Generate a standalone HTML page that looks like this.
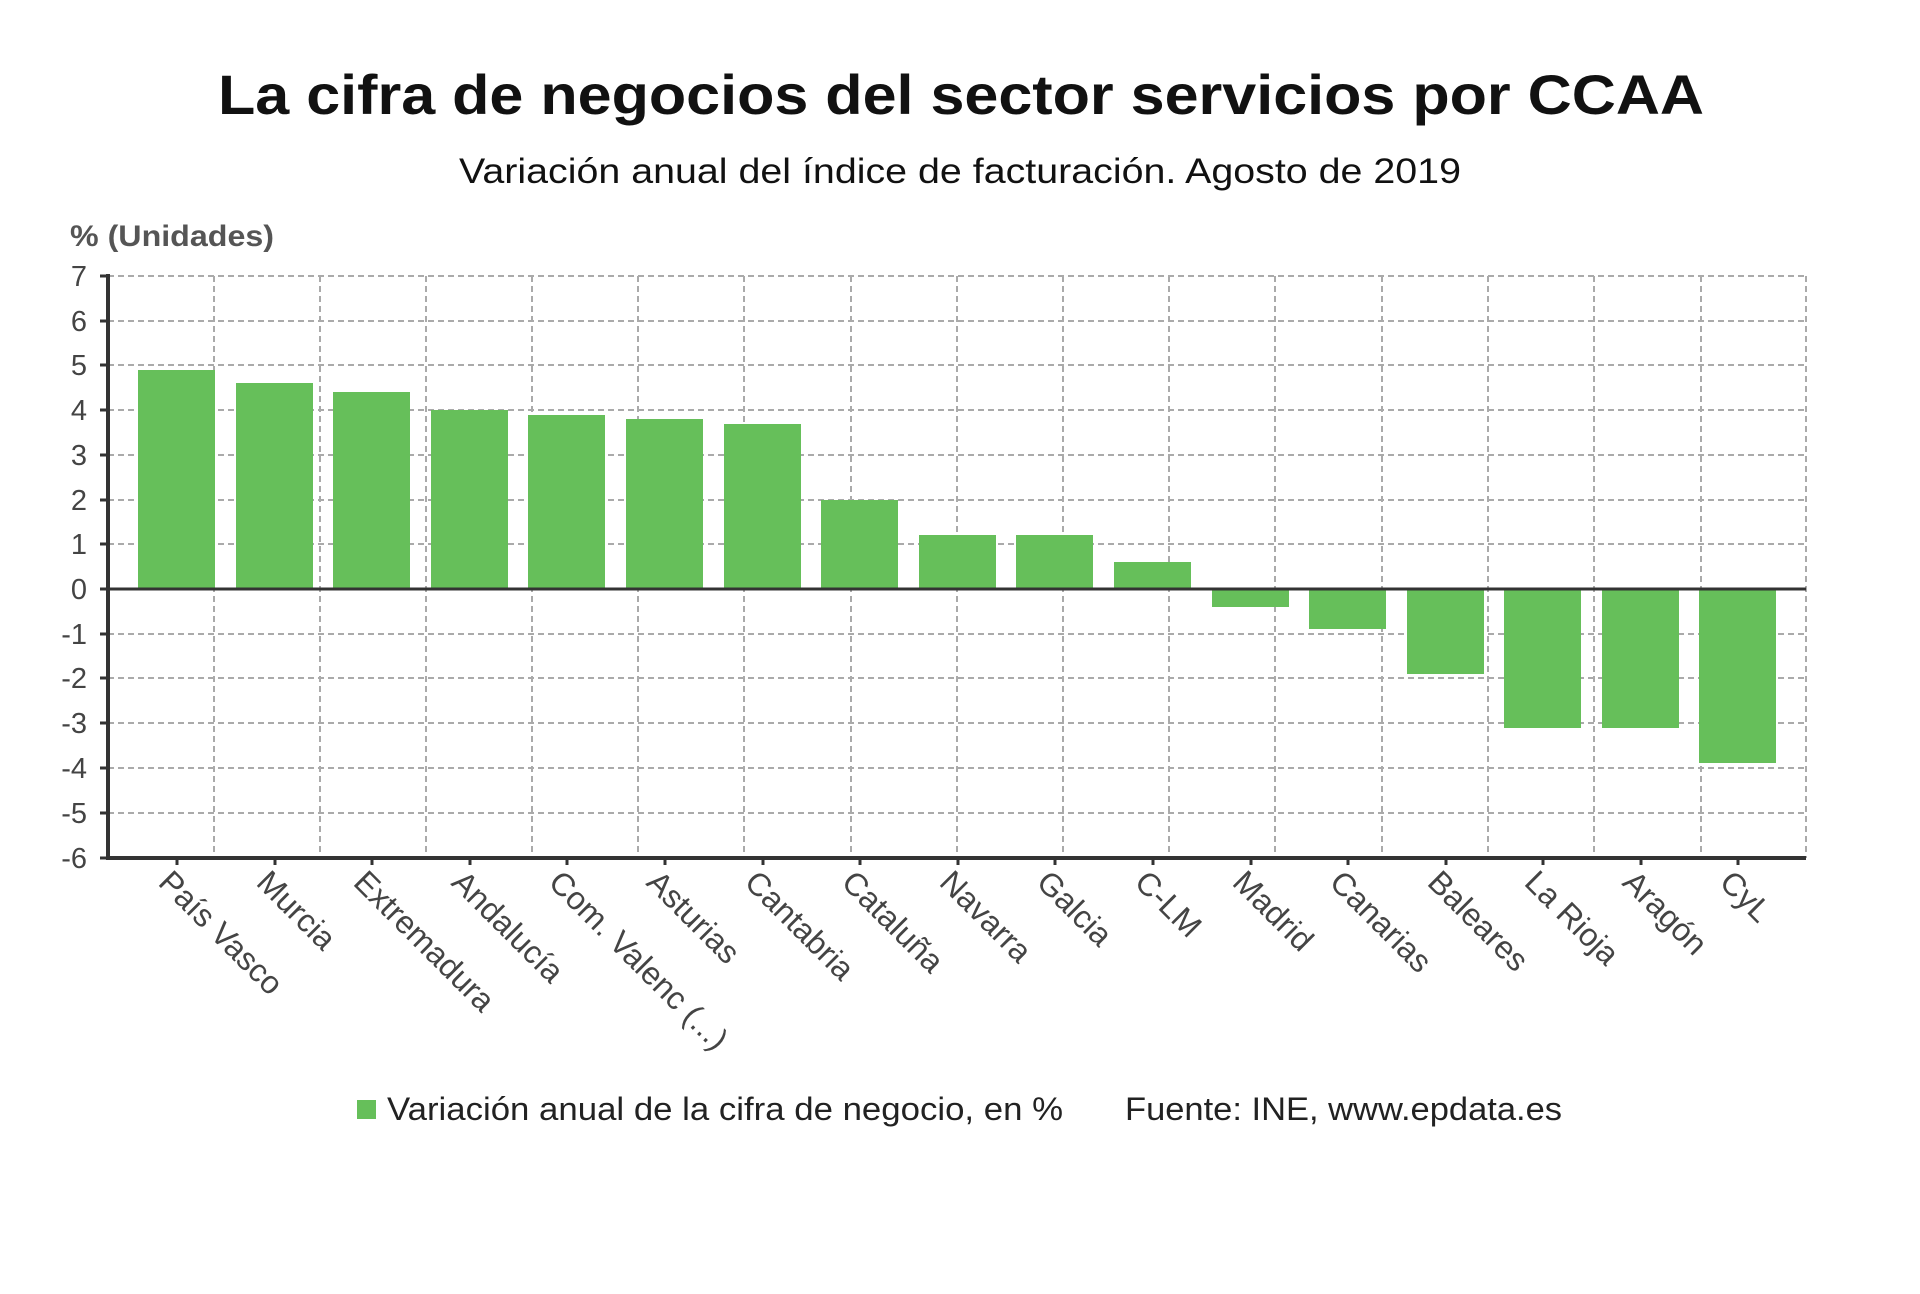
<!DOCTYPE html>
<html><head><meta charset="utf-8"><style>
html,body{margin:0;padding:0;background:#fff;}
svg{display:block;}
text{font-family:"Liberation Sans",sans-serif;}
</style></head><body>
<svg width="1920" height="1294" viewBox="0 0 1920 1294" xmlns="http://www.w3.org/2000/svg">
<rect width="1920" height="1294" fill="#fff"/>
<text x="961" y="114" text-anchor="middle" font-size="56" font-weight="bold" fill="#111" textLength="1486" lengthAdjust="spacingAndGlyphs">La cifra de negocios del sector servicios por CCAA</text>
<text x="960" y="183" text-anchor="middle" font-size="35" fill="#111" textLength="1002" lengthAdjust="spacingAndGlyphs">Variación anual del índice de facturación. Agosto de 2019</text>
<text x="70" y="246" font-size="30" font-weight="bold" fill="#555" textLength="204" lengthAdjust="spacingAndGlyphs">% (Unidades)</text>
<g stroke="#aaa" stroke-width="2" stroke-dasharray="6,4" fill="none">
<line x1="108" x2="1806" y1="276" y2="276"/><line x1="108" x2="1806" y1="321" y2="321"/><line x1="108" x2="1806" y1="365" y2="365"/><line x1="108" x2="1806" y1="410" y2="410"/><line x1="108" x2="1806" y1="455" y2="455"/><line x1="108" x2="1806" y1="500" y2="500"/><line x1="108" x2="1806" y1="544" y2="544"/><line x1="108" x2="1806" y1="634" y2="634"/><line x1="108" x2="1806" y1="678" y2="678"/><line x1="108" x2="1806" y1="723" y2="723"/><line x1="108" x2="1806" y1="768" y2="768"/><line x1="108" x2="1806" y1="813" y2="813"/>
<line x1="214" x2="214" y1="276" y2="858"/><line x1="320" x2="320" y1="276" y2="858"/><line x1="426" x2="426" y1="276" y2="858"/><line x1="532" x2="532" y1="276" y2="858"/><line x1="638" x2="638" y1="276" y2="858"/><line x1="744" x2="744" y1="276" y2="858"/><line x1="851" x2="851" y1="276" y2="858"/><line x1="957" x2="957" y1="276" y2="858"/><line x1="1063" x2="1063" y1="276" y2="858"/><line x1="1169" x2="1169" y1="276" y2="858"/><line x1="1275" x2="1275" y1="276" y2="858"/><line x1="1382" x2="1382" y1="276" y2="858"/><line x1="1488" x2="1488" y1="276" y2="858"/><line x1="1594" x2="1594" y1="276" y2="858"/><line x1="1701" x2="1701" y1="276" y2="858"/><line x1="1806" x2="1806" y1="276" y2="858"/>
</g>
<g fill="#66bf5a">
<rect x="138" y="370" width="77" height="219"/>
<rect x="236" y="383" width="77" height="206"/>
<rect x="333" y="392" width="77" height="197"/>
<rect x="431" y="410" width="77" height="179"/>
<rect x="528" y="415" width="77" height="174"/>
<rect x="626" y="419" width="77" height="170"/>
<rect x="724" y="424" width="77" height="165"/>
<rect x="821" y="500" width="77" height="89"/>
<rect x="919" y="535" width="77" height="54"/>
<rect x="1016" y="535" width="77" height="54"/>
<rect x="1114" y="562" width="77" height="27"/>
<rect x="1212" y="589" width="77" height="18"/>
<rect x="1309" y="589" width="77" height="40"/>
<rect x="1407" y="589" width="77" height="85"/>
<rect x="1504" y="589" width="77" height="139"/>
<rect x="1602" y="589" width="77" height="139"/>
<rect x="1699" y="589" width="77" height="174"/>
</g>
<line x1="108" x2="1806" y1="589" y2="589" stroke="#333" stroke-width="3"/>
<line x1="108" x2="108" y1="274" y2="860" stroke="#333" stroke-width="4"/>
<line x1="106" x2="1806" y1="858" y2="858" stroke="#333" stroke-width="4"/>
<g stroke="#333" stroke-width="3">
<line x1="100" x2="108" y1="276" y2="276"/><line x1="100" x2="108" y1="321" y2="321"/><line x1="100" x2="108" y1="365" y2="365"/><line x1="100" x2="108" y1="410" y2="410"/><line x1="100" x2="108" y1="455" y2="455"/><line x1="100" x2="108" y1="500" y2="500"/><line x1="100" x2="108" y1="544" y2="544"/><line x1="100" x2="108" y1="589" y2="589"/><line x1="100" x2="108" y1="634" y2="634"/><line x1="100" x2="108" y1="678" y2="678"/><line x1="100" x2="108" y1="723" y2="723"/><line x1="100" x2="108" y1="768" y2="768"/><line x1="100" x2="108" y1="813" y2="813"/><line x1="100" x2="108" y1="858" y2="858"/>
<line x1="177" x2="177" y1="858" y2="865"/><line x1="275" x2="275" y1="858" y2="865"/><line x1="372" x2="372" y1="858" y2="865"/><line x1="470" x2="470" y1="858" y2="865"/><line x1="567" x2="567" y1="858" y2="865"/><line x1="665" x2="665" y1="858" y2="865"/><line x1="763" x2="763" y1="858" y2="865"/><line x1="860" x2="860" y1="858" y2="865"/><line x1="958" x2="958" y1="858" y2="865"/><line x1="1055" x2="1055" y1="858" y2="865"/><line x1="1153" x2="1153" y1="858" y2="865"/><line x1="1251" x2="1251" y1="858" y2="865"/><line x1="1348" x2="1348" y1="858" y2="865"/><line x1="1446" x2="1446" y1="858" y2="865"/><line x1="1543" x2="1543" y1="858" y2="865"/><line x1="1641" x2="1641" y1="858" y2="865"/><line x1="1738" x2="1738" y1="858" y2="865"/>
</g>
<g font-size="29" fill="#444" text-anchor="end">
<text x="87" y="286">7</text><text x="87" y="331">6</text><text x="87" y="375">5</text><text x="87" y="420">4</text><text x="87" y="465">3</text><text x="87" y="510">2</text><text x="87" y="554">1</text><text x="87" y="599">0</text><text x="87" y="644">-1</text><text x="87" y="688">-2</text><text x="87" y="733">-3</text><text x="87" y="778">-4</text><text x="87" y="823">-5</text><text x="87" y="868">-6</text>
</g>
<g font-size="32" fill="#444">
<text transform="translate(157,884) rotate(45)">País Vasco</text>
<text transform="translate(255,884) rotate(45)">Murcia</text>
<text transform="translate(352,884) rotate(45)">Extremadura</text>
<text transform="translate(450,884) rotate(45)">Andalucía</text>
<text transform="translate(547,884) rotate(45)">Com. Valenc (...)</text>
<text transform="translate(645,884) rotate(45)">Asturias</text>
<text transform="translate(743,884) rotate(45)">Cantabria</text>
<text transform="translate(840,884) rotate(45)">Cataluña</text>
<text transform="translate(938,884) rotate(45)">Navarra</text>
<text transform="translate(1035,884) rotate(45)">Galcia</text>
<text transform="translate(1133,884) rotate(45)">C-LM</text>
<text transform="translate(1231,884) rotate(45)">Madrid</text>
<text transform="translate(1328,884) rotate(45)">Canarias</text>
<text transform="translate(1426,884) rotate(45)">Baleares</text>
<text transform="translate(1523,884) rotate(45)">La Rioja</text>
<text transform="translate(1621,884) rotate(45)">Aragón</text>
<text transform="translate(1718,884) rotate(45)">CyL</text>
</g>
<rect x="357" y="1100" width="19" height="19" fill="#66bf5a"/>
<text x="387" y="1120" font-size="32" fill="#222" textLength="676" lengthAdjust="spacingAndGlyphs">Variación anual de la cifra de negocio, en %</text>
<text x="1125" y="1120" font-size="32" fill="#222" textLength="437" lengthAdjust="spacingAndGlyphs">Fuente: INE, www.epdata.es</text>
</svg>
</body></html>
